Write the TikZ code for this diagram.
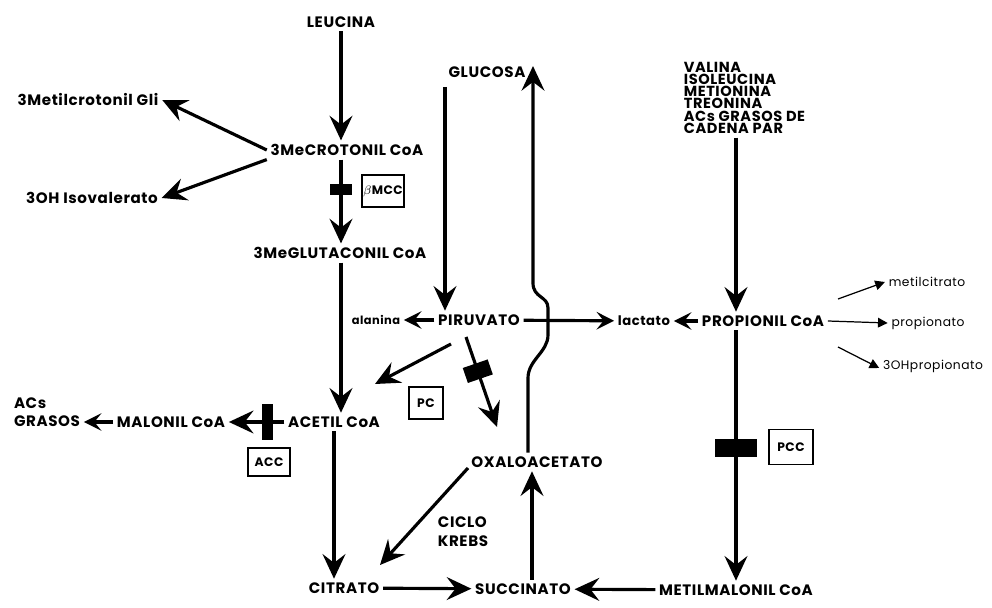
\documentclass[tikz,border=0pt]{standalone}
\usepackage{fontspec}
\setmainfont{Poppins}[LetterSpace=4]
\usetikzlibrary{arrows.meta,positioning}

\begin{document}
\begin{tikzpicture}[x=0.02cm,y=-0.02cm]
    \tikzstyle{met}=[inner sep=2pt,font=\fontsize{8.6}{10}\selectfont\bfseries]   % metabolite
    \tikzstyle{low}=[inner sep=2pt,font=\fontsize{7}{8}\selectfont]               % side product
    \tikzstyle{enz}=[draw,line width=1pt,inner sep=0pt,font=\fontsize{7}{7}\selectfont\bfseries] % enzyme
    \tikzstyle{blk}=[fill=black,inner sep=0pt,sloped]                               % block

    \tikzstyle{every edge}=[draw,line width=1.8pt]
    \tikzstyle{go}=[-{Stealth[length=14pt,width=13pt,inset=5pt]}]
    \tikzstyle{sm}=[-{Stealth[length=10pt,width=10pt,inset=4pt]}]
    \tikzstyle{side}=[-{Triangle[length=5.5pt,width=5.5pt]}]

    \useasboundingbox (0,0) rectangle (992,608);

    % leucine branch
    \node[met] (leu)   at (341,22)  {LEUCINA};
    \node[met] (gli)   at (88,100)  {3Metilcrotonil Gli};
    \node[met] (mcrot) at (347,150) {3MeCROTONIL CoA};
    \node[met] (oh)    at (92,198)  {3OH Isovalerato};
    \node[met] (mglut) at (340,253) {3MeGLUTACONIL CoA};
    \node[met] (acet)  at (334,422) {ACETIL CoA};
    \node[met] (malo)  at (171,422) {MALONIL CoA};
    \node[met,align=left] (acs) at (47,412) {ACs\\GRASOS};
    \node[met] (cit)   at (344,588) {CITRATO};

    % glucose / pyruvate
    \node[met] (glu)   at (487,72)  {GLUCOSA};
    \node[met] (pir)   at (479,320) {PIRUVATO};
    \node[met,font=\fontsize{6.5}{7}\selectfont\bfseries] (alan) at (376,320) {alanina};
    \node[met,font=\fontsize{7.5}{8}\selectfont\bfseries] (lac)  at (644,321) {lactato};
    \node[met] (oxa)   at (537,462) {OXALOACETATO};
    \node[met] (suc)   at (523,589) {SUCCINATO};
    \node[met,align=left,font=\fontsize{8.6}{11}\selectfont\bfseries] (krebs) at (463,532) {CICLO\\KREBS};

    % propionyl branch
    \node[met,align=left,anchor=north west,font=\fontsize{8.3}{7}\selectfont\bfseries] (val) at (680,58)
        {VALINA\\ISOLEUCINA\\METIONINA\\TREONINA\\ACs GRASOS DE\\CADENA PAR};
    \node[met] (prop)  at (763,321) {PROPIONIL CoA};
    \node[met] (metm)  at (736,590) {METILMALONIL CoA};
    \node[low] (metc)  at (927,282) {metilcitrato};
    \node[low] (propn) at (928,323) {propionato};
    \node[low] (ohp)   at (933,366) {3OHpropionato};

    % enzymes
    \node[enz,minimum width=24pt,minimum height=18pt] (mcc) at (383,191) {$\beta$MCC};
    \node[enz,minimum width=19pt,minimum height=18pt] (pc)  at (426,403) {PC};
    \node[enz,minimum width=24pt,minimum height=16pt] (acc) at (269,462) {ACC};
    \node[enz,minimum width=25pt,minimum height=20pt] (pcc) at (791,447) {PCC};

    \coordinate (gludn) at (445,87);
    \coordinate (gluup) at (533,66);
    \coordinate (oxaup) at ([shift={(-9,0)}]oxa.north);
    \coordinate (sucup) at ([shift={(9,0)}]suc.north);

    \path[go] (leu) edge (leu |- mcrot.north);
    \path[go] (mcrot.west) edge (gli.east);
    \path[go] (mcrot.south west) edge (oh.east);
    \path[go] (leu |- mcrot.south) edge node[blk,pos=.36,minimum width=6.2pt,minimum height=13pt] {} (leu |- mglut.north);
    \path[go] (leu |- mglut.south) edge (leu |- acet.north);
    \path[go] (acet) edge (acet |- cit.north);
    \path[go] (acet) edge node[blk,pos=.31,minimum width=6.2pt,minimum height=20pt] {} (malo);
    \path[sm] (malo) edge (malo -| acs.east);

    \path[go] (gludn) edge (gludn |- pir.north);
    \draw[go,line width=1.8pt] (oxaup) -- (528,378) .. controls (528,360) and (548,352) .. (548,335)
        -- (548,308) .. controls (548,296) and (533,298) .. (533,283) -- (gluup);
    \path[sm] (pir) edge (alan);
    \path[sm] (pir) edge (lac);
    \path[go] ([shift={(-28,24)}]pir.center) edge ([shift={(41,-38)}]acet.center);
    \path[go] ([shift={(-13,17)}]pir.center) edge node[blk,pos=.38,minimum width=9pt,minimum height=15pt] {} ([shift={(-40,-35)}]oxa.center);
    \path[go] ([shift={(-69,6)}]oxa.center) edge ([shift={(36,-23)}]cit.center);
    \path[go] (cit) edge (suc);
    \path[go] (sucup) edge (sucup |- oxa.south);

    \path[go] (metm.north |- val.south) edge (metm.north |- prop.north);
    \path[sm] (prop) edge (lac);
    \path[go] (metm.north |- prop.south) edge node[blk,pos=.47,minimum width=10.8pt,minimum height=24pt] {} (metm.north);
    \path[go] (metm) edge (suc);
    \path[side] ([shift={(75,-22)}]prop.center) edge[line width=.7pt] (metc.west);
    \path[side] (prop.east) edge[line width=.7pt] (propn.west);
    \path[side] ([shift={(75,26)}]prop.center) edge[line width=.7pt] ([shift={(0,2)}]ohp.west);
\end{tikzpicture}
\end{document}
